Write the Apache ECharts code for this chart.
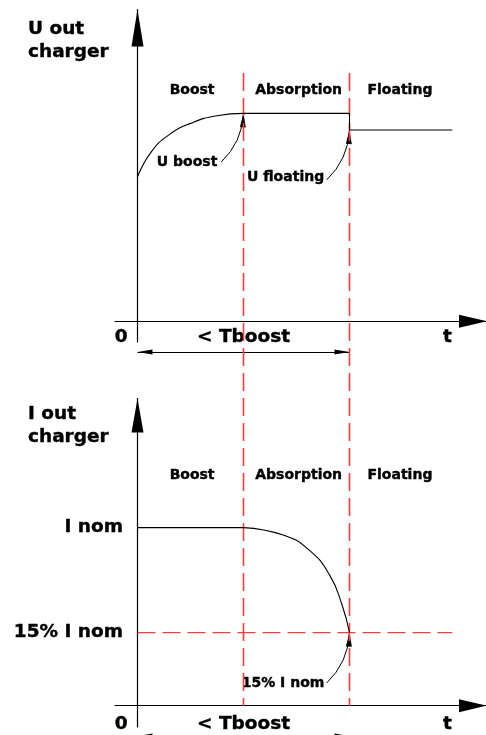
<!DOCTYPE html>
<html>
<head>
<meta charset="utf-8">
<script src="https://cdn.jsdelivr.net/npm/echarts@6/dist/echarts.min.js"></script>
<style>
html,body{margin:0;padding:0;background:#fff;}
#chart{width:486px;height:735px;}
</style>
</head>
<body>
<div id="chart"></div>
<script>
// ---------- data ----------
const PHASE_BOUNDS = [1, 2];
const PHASE_NAMES = ['Boost', 'Absorption', 'Floating'];
const PHASE_LABEL_T = [0.515, 1.52, 2.476];
const PHASE_LABEL_U = 111.3;
const PHASE_LABEL_I = 129.5;

const X_TICK_T = [-0.153, 1, 2.923];
const X_TICK_LABELS = ['0', '< Tboost', 't'];

const U_RISE_T = [0, 0.13, 0.3, 0.5, 0.75, 1];
const U_RISE_V = [69.5, 81.5, 89.8, 95.2, 98.9, 100];
const U_HOLD_T = [1, 2, 2, 2.97];
const U_HOLD_V = [100, 100, 92, 92];

const I_FLAT_T = [0, 1];
const I_FLAT_V = [100, 100];
const I_DROP_T = [1, 1.374, 1.62, 1.813, 1.93, 2];
const I_DROP_V = [100, 95.8, 87.3, 73.3, 56.5, 41];
const I_TICK_VALUES = [100, 41];
const I_TICK_LABELS = ['I nom', '15% I nom'];
const I_15_LINE_T = [0, 2.97];
const I_15_LEVEL = 41;

const U_ANNOT_TEXT = ['U boost', 'U floating'];
const U_ANNOT_POS = [[0.468, 76.6], [1.397, 69.4]];
const U_ANNOT_FROM = [[0.79, 76.6], [1.785, 68.0]];
const U_ANNOT_TO = [[1, 100], [2, 92]];
const I_ANNOT_TEXT = ['15% I nom'];
const I_ANNOT_POS = [[1.373, 12.7]];
const I_ANNOT_FROM = [[1.785, 12.7]];
const I_ANNOT_TO = [[2, 41]];

const U_DASH_RANGE = [119.4, -185];   // phase line extent (top-grid units)
const TBOOST_SPAN = [0, 2];
const TBOOST_U = -14.8;
const TBOOST_I = -17.1;

// ---------- helpers ----------
const FONT = 'DejaVu Sans';
const RED = '#ff3c3c';
const T_MIN = -0.2123, T_MAX = 3.2972;
const zip = (a, b) => a.map((v, i) => [v, b[i]]);
const ARROW = 'path://M0,0M28,28M14,14L17,28L11,28Z';
const ARROW2 = 'path://M0,0M30,30M15,15L17.5,30L12.5,30Z';
const TXT = { color: '#000', fontFamily: FONT, fontWeight: 'bold', textBorderColor: '#000', textBorderWidth: 0.4, opacity: 1 };

function xAxis(idx, margin) {
  return {
    type: 'value', gridIndex: idx, min: T_MIN, max: T_MAX,
    axisLine: { onZero: true, lineStyle: { color: '#000', width: 1.2 },
      symbol: ['none', 'triangle'], symbolSize: [13, 28], symbolOffset: [0, -14] },
    axisTick: { show: false }, splitLine: { show: false },
    axisLabel: Object.assign({ show: true, customValues: X_TICK_T, margin: margin, fontSize: 18.5,
      formatter: v => { const k = X_TICK_T.findIndex(t => Math.abs(t - v) < 1e-6); return k >= 0 ? X_TICK_LABELS[k] : ''; } }, TXT)
  };
}

function textSeries(idx, texts, pos) {
  return {
    type: 'scatter', xAxisIndex: idx, yAxisIndex: idx, symbolSize: 1,
    itemStyle: { color: 'rgba(0,0,0,0)', opacity: 1 }, silent: true,
    data: pos.map((p, i) => ({ value: p, name: texts[i] })),
    label: Object.assign({ show: true, position: 'inside', formatter: p => p.name, fontSize: 14 }, TXT)
  };
}

function leaders(idx, from, to) {
  return {
    type: 'lines', coordinateSystem: 'cartesian2d', xAxisIndex: idx, yAxisIndex: idx,
    clip: false, silent: true, symbol: ['none', ARROW], symbolSize: 28,
    lineStyle: { color: '#000', width: 1, curveness: -0.2, opacity: 1 },
    data: from.map((f, i) => ({ coords: [f, to[i]] }))
  };
}

function tboostArrow(idx, yv) {
  return {
    type: 'lines', coordinateSystem: 'cartesian2d', xAxisIndex: idx, yAxisIndex: idx,
    clip: false, silent: true, symbol: [ARROW2, ARROW2], symbolSize: 30,
    lineStyle: { color: '#000', width: 1, opacity: 1 },
    data: [{ coords: [[TBOOST_SPAN[0], yv], [TBOOST_SPAN[1], yv]] }]
  };
}

function phaseLine(t) {
  return { type: 'line', xAxisIndex: 0, yAxisIndex: 0, clip: false, silent: true, symbol: 'none',
    data: [[t, U_DASH_RANGE[0]], [t, U_DASH_RANGE[1]]],
    lineStyle: { color: RED, width: 1.6, type: [18, 7], opacity: 1 } };
}

const chart = echarts.init(document.getElementById('chart'), null, { renderer: 'canvas' });
chart.setOption({
  animation: false,
  backgroundColor: '#fff',
  title: [
    { text: 'U out\ncharger', left: 28, top: 18, padding: 0,
      textStyle: Object.assign({ fontSize: 18.5, lineHeight: 23 }, TXT) },
    { text: 'I out\ncharger', left: 28, top: 403, padding: 0,
      textStyle: Object.assign({ fontSize: 18.5, lineHeight: 23 }, TXT) }
  ],
  grid: [
    { left: 115, top: 9.5, width: 372, height: 332.5, outerBoundsMode: 'none', containLabel: false },
    { left: 115, top: 398.5, width: 372, height: 328.5, outerBoundsMode: 'none', containLabel: false }
  ],
  xAxis: [xAxis(0, -14), xAxis(1, -12.8)],
  yAxis: [
    { type: 'value', gridIndex: 0, min: -10, max: 150,
      axisLine: { show: true, onZero: true, lineStyle: { color: '#000', width: 1.2 },
        symbol: ['none', 'triangle'], symbolSize: [12, 37], symbolOffset: [0, -18.5] },
      axisTick: { show: false }, splitLine: { show: false }, axisLabel: { show: false } },
    { type: 'value', gridIndex: 1, min: -12, max: 172.5,
      axisLine: { show: true, onZero: true, lineStyle: { color: '#000', width: 1.2 },
        symbol: ['none', 'triangle'], symbolSize: [12, 34], symbolOffset: [0, -17] },
      axisTick: { show: false }, splitLine: { show: false },
      axisLabel: Object.assign({ show: true, customValues: I_TICK_VALUES, margin: -8, fontSize: 18.5,
        formatter: v => { const k = I_TICK_VALUES.indexOf(v); return k >= 0 ? I_TICK_LABELS[k] : ''; } }, TXT) }
  ],
  series: [
    ...PHASE_BOUNDS.map(phaseLine),
    // U curve
    { type: 'line', xAxisIndex: 0, yAxisIndex: 0, data: zip(U_RISE_T, U_RISE_V),
      smooth: 0.5, symbol: 'none', lineStyle: { color: '#000', width: 1.1 } },
    { type: 'line', xAxisIndex: 0, yAxisIndex: 0, data: zip(U_HOLD_T, U_HOLD_V),
      symbol: 'none', lineStyle: { color: '#000', width: 1.1 } },
    textSeries(0, PHASE_NAMES, PHASE_LABEL_T.map(t => [t, PHASE_LABEL_U])),
    textSeries(0, U_ANNOT_TEXT, U_ANNOT_POS),
    leaders(0, U_ANNOT_FROM, U_ANNOT_TO),
    tboostArrow(0, TBOOST_U),
    // I curve
    { type: 'line', xAxisIndex: 1, yAxisIndex: 1, data: I_15_LINE_T.map(t => [t, I_15_LEVEL]),
      symbol: 'none', lineStyle: { color: RED, width: 1.3, type: [18, 7] } },
    { type: 'line', xAxisIndex: 1, yAxisIndex: 1, data: zip(I_FLAT_T, I_FLAT_V),
      symbol: 'none', lineStyle: { color: '#000', width: 1.1 } },
    { type: 'line', xAxisIndex: 1, yAxisIndex: 1, data: zip(I_DROP_T, I_DROP_V),
      smooth: 0.5, symbol: 'none', lineStyle: { color: '#000', width: 1.1 } },
    textSeries(1, PHASE_NAMES, PHASE_LABEL_T.map(t => [t, PHASE_LABEL_I])),
    textSeries(1, I_ANNOT_TEXT, I_ANNOT_POS),
    leaders(1, I_ANNOT_FROM, I_ANNOT_TO),
    tboostArrow(1, TBOOST_I)
  ]
});
</script>
</body>
</html>
